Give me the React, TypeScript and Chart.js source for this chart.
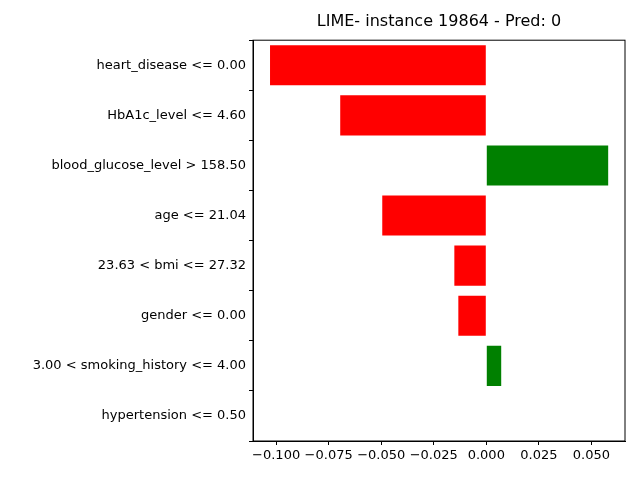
import { Chart, registerables } from 'chart.js';
import { useEffect, useRef } from 'react';

Chart.register(...registerables);

const features = [
  'heart_disease <= 0.00',
  'HbA1c_level <= 4.60',
  'blood_glucose_level > 158.50',
  'age <= 21.04',
  '23.63 < bmi <= 27.32',
  'gender <= 0.00',
  '3.00 < smoking_history <= 4.00',
  'hypertension <= 0.50',
];
const weights = [-0.1029, -0.0695, 0.058, -0.0495, -0.0152, -0.0133, 0.0071, 0.0];
const xTicks = [-0.1, -0.075, -0.05, -0.025, 0, 0.025, 0.05];

const App = () => {
  const canvasRef = useRef<HTMLCanvasElement | null>(null);

  useEffect(() => {
    document.body.style.margin = '0';
    if (!canvasRef.current) return;
    const font = { family: 'DejaVu Sans', size: 13 };
    const chart = new Chart(canvasRef.current, {
      type: 'bar',
      data: {
        labels: features,
        datasets: [{
          data: weights,
          backgroundColor: weights.map(w => (w > 0 ? '#008000' : '#ff0000')),
          barPercentage: 0.8,
          categoryPercentage: 1,
        }],
      },
      options: {
        indexAxis: 'y',
        animation: false,
        responsive: false,
        layout: { padding: { right: 15 } },
        plugins: {
          legend: { display: false },
          tooltip: { enabled: false },
          title: {
            display: true,
            text: 'LIME- instance 19864 - Pred: 0',
            color: '#000',
            fullSize: false,
            font: { family: 'DejaVu Sans', size: 16, weight: 'normal' },
            padding: { top: 12, bottom: 9 },
          },
        },
        scales: {
          x: {
            min: -0.111,
            max: 0.066,
            afterBuildTicks: (s: any) => { s.ticks = xTicks.map(v => ({ value: v })); },
            afterFit: (s: any) => { s.height = 39; },
            grid: { drawOnChartArea: false, color: '#000', tickLength: 4 },
            border: { color: '#000' },
            ticks: {
              color: '#000', font,
              callback: (v: any) => Number(v).toFixed(3).replace('-', '\u2212'),
            },
          },
          y: {
            afterFit: (s: any) => { s.width = 253; },
            grid: { drawOnChartArea: false, color: '#000', tickLength: 4 },
            border: { color: '#000' },
            ticks: { color: '#000', font },
          },
        },
      },
      plugins: [{
        id: 'box',
        afterDraw: (c: any) => {
          const { ctx, chartArea: a } = c;
          ctx.save();
          ctx.strokeStyle = '#000';
          ctx.lineWidth = 1;
          ctx.strokeRect(a.left, a.top, a.right - a.left, a.bottom - a.top);
          ctx.restore();
        },
      }],
    });
    return () => chart.destroy();
  }, []);

  return <canvas ref={canvasRef} width={640} height={480}></canvas>;
};

export default App;
